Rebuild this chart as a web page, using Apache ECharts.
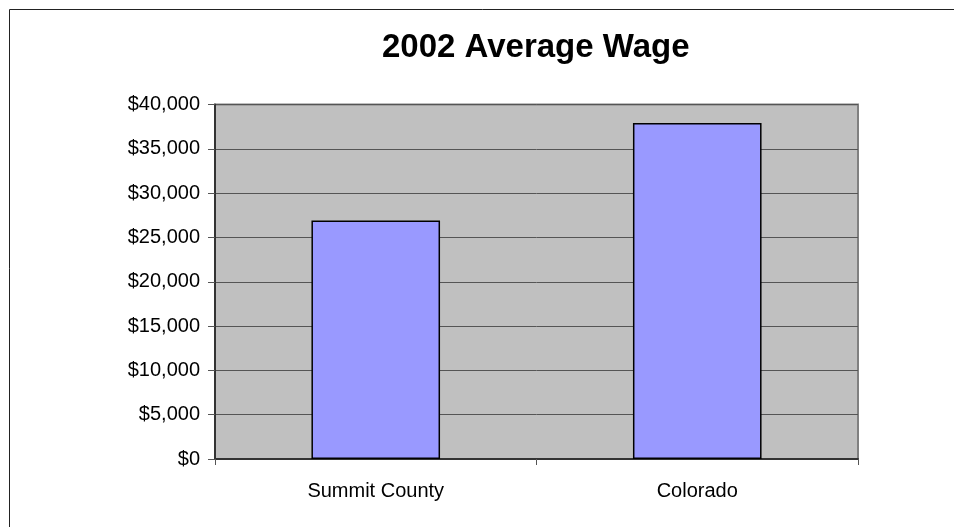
<!DOCTYPE html>
<html>
<head>
<meta charset="utf-8">
<script src="https://cdn.jsdelivr.net/npm/echarts@6/dist/echarts.min.js"></script>
<style>
  html, body { margin: 0; padding: 0; background: #fff; }
  #wage_chart { width: 954px; height: 527px; }
</style>
</head>
<body>
<div id="wage_chart"></div>
<script>
  var categories = ['Summit County', 'Colorado'];
  var wages = [26900, 37900];
  var yTicks = [0, 5000, 10000, 15000, 20000, 25000, 30000, 35000, 40000];

  var wageChart = echarts.init(document.getElementById('wage_chart'), null, {
    renderer: 'canvas'
  });

  function dollars(v) {
    return '$' + v.toLocaleString('en-US');
  }

  var wageOptions = {
    backgroundColor: '#ffffff',
    animation: false,
    textStyle: { fontFamily: 'Liberation Sans, Arial, sans-serif' },
    title: {
      text: '2002 Average Wage',
      left: 382,
      top: 31,
      padding: 0,
      textStyle: {
        fontFamily: 'Liberation Sans, Arial, sans-serif',
        fontSize: 33,
        fontWeight: 'bold',
        color: '#000'
      }
    },
    graphic: [{
      type: 'rect',
      shape: { x: 9.5, y: 9.5, width: 1000, height: 600 },
      style: { fill: 'none', stroke: '#222', lineWidth: 1 },
      silent: true,
      z: 100
    }],
    grid: {
      left: 215,
      right: 954 - 858,
      top: 104.5,
      bottom: 527 - 459,
      show: true,
      backgroundColor: '#C0C0C0',
      borderColor: '#808080',
      borderWidth: 2
    },
    xAxis: {
      type: 'category',
      data: categories,
      axisLine: { show: true, lineStyle: { color: '#333', width: 2 } },
      axisTick: { show: true, length: 6, lineStyle: { color: '#555', width: 1 } },
      axisLabel: {
        color: '#000',
        fontSize: 20,
        margin: 22,
        fontFamily: 'Liberation Sans, Arial, sans-serif'
      },
      splitLine: { show: false }
    },
    yAxis: {
      type: 'value',
      min: yTicks[0],
      max: yTicks[yTicks.length - 1],
      interval: yTicks[1] - yTicks[0],
      axisLine: { show: true, lineStyle: { color: '#333', width: 2 } },
      axisTick: { show: true, length: 7, lineStyle: { color: '#555', width: 1 } },
      axisLabel: {
        color: '#000',
        fontSize: 20,
        margin: 15,
        fontFamily: 'Liberation Sans, Arial, sans-serif',
        formatter: dollars
      },
      splitLine: { show: true, lineStyle: { color: '#555', width: 1 } }
    },
    series: [{
      name: 'Average Wage',
      type: 'bar',
      data: wages,
      barWidth: '40%',
      itemStyle: {
        color: '#9999FF',
        borderColor: '#000',
        borderWidth: 1.5
      }
    }]
  };

  wageChart.setOption(wageOptions);

  window.addEventListener('resize', wageChart.resize);
</script>
</body>
</html>
